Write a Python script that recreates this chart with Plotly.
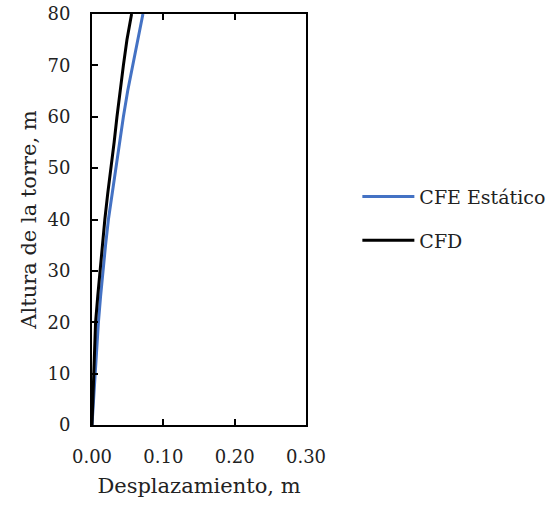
import plotly.graph_objects as go

# Tower height (m) and lateral displacement (m) for each method
altura = [0, 5, 10, 15, 20, 25, 30, 35, 40, 45, 50, 55, 60, 65, 70, 75, 80]
desp_cfe = [0, 0.002, 0.004, 0.006, 0.009, 0.012, 0.015, 0.019, 0.023, 0.028,
            0.034, 0.039, 0.044, 0.050, 0.057, 0.064, 0.0714]
desp_cfd = [0, 0.001, 0.002, 0.003, 0.005, 0.008, 0.011, 0.014, 0.018, 0.022,
            0.027, 0.031, 0.035, 0.039, 0.044, 0.049, 0.0555]

FONT = "DejaVu Serif"
TXT = "#222222"

fig = go.Figure()
fig.add_trace(go.Scatter(x=desp_cfe, y=altura, mode="lines", name="CFE Estático",
                         line=dict(color="#4472C4", width=3), legendgroup="a"))
fig.add_trace(go.Scatter(x=desp_cfd, y=altura, mode="lines", name="CFD",
                         line=dict(color="#000000", width=3), legendgroup="b"))

axis_common = dict(
    showline=True, linecolor="black", linewidth=2,
    ticks="inside", ticklen=6, tickwidth=2, tickcolor="black",
    showgrid=False, zeroline=False,
    tickfont=dict(family=FONT, size=18, color=TXT),
)

fig.update_xaxes(range=[0, 0.30], dtick=0.10, tickformat=".2f", mirror="ticks",
                 ticklabelstandoff=14,
                 title=dict(text="Desplazamiento, m", font=dict(family=FONT, size=21, color=TXT),
                            standoff=13),
                 **axis_common)
fig.update_yaxes(range=[0, 80], dtick=10, mirror=True,
                 ticklabelstandoff=16,
                 title=dict(text="Altura de la torre, m", font=dict(family=FONT, size=21, color=TXT),
                            standoff=5),
                 **axis_common)

fig.update_layout(
    width=552, height=508,
    margin=dict(l=92, r=246, t=14, b=83, autoexpand=False),
    paper_bgcolor="white", plot_bgcolor="white",
    font=dict(family=FONT),
    showlegend=True,
    legend=dict(x=1.24, y=0.502, xanchor="left", yanchor="middle",
                font=dict(family=FONT, size=19, color=TXT),
                traceorder="grouped", tracegroupgap=16, itemwidth=52,
                bgcolor="rgba(0,0,0,0)"),
)

fig.write_html("out.html")
